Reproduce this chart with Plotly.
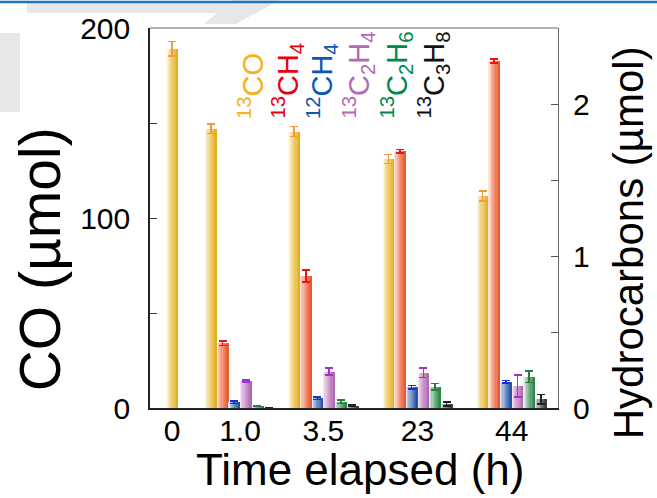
import plotly.graph_objects as go

# ---- data -------------------------------------------------------------
time_labels = ["0", "1.0", "3.5", "23", "44"]

co_13 = [189.0, 147.0, 145.5, 131.0, 111.5]          # µmol, left axis
co_13_err = [3.8, 2.6, 2.6, 2.4, 2.6]

ch4_13 = [None, 0.426, 0.868, 1.69, 2.283]            # µmol, right axis
ch4_13_err = [None, 0.016, 0.038, 0.012, 0.015]
ch4_12 = [None, 0.037, 0.064, 0.136, 0.173]
ch4_12_err = [None, 0.008, 0.009, 0.011, 0.008]
c2h4_13 = [None, 0.178, 0.239, 0.232, 0.145]
c2h4_13_err = [None, 0.008, 0.023, 0.032, 0.071]
c2h6_13 = [None, 0.013, 0.041, 0.140, 0.206]
c2h6_13_err = [None, 0.004, 0.011, 0.022, 0.037]
c3h8_13 = [None, 0.0, 0.015, 0.026, 0.057]
c3h8_13_err = [None, 0.0, 0.004, 0.014, 0.031]

# ---- styling ----------------------------------------------------------
FONT = "Liberation Sans, Arial, Helvetica, sans-serif"

series = [
    dict(name="<sup>13</sup>CO", y=co_13, err=co_13_err, axis="y",
         light=(253, 246, 226), full=(229, 176, 32), err_col="#f39a3a", label_col="#f5b21c"),
    dict(name="<sup>13</sup>CH<sub>4</sub>", y=ch4_13, err=ch4_13_err, axis="y2",
         light=(253, 226, 218), full=(234, 90, 48), err_col="#e8141e", label_col="#e60012"),
    dict(name="<sup>12</sup>CH<sub>4</sub>", y=ch4_12, err=ch4_12_err, axis="y2",
         light=(222, 231, 244), full=(36, 84, 166), err_col="#1a2fd0", label_col="#0a58b0"),
    dict(name="<sup>13</sup>C<sub>2</sub>H<sub>4</sub>", y=c2h4_13, err=c2h4_13_err, axis="y2",
         light=(246, 226, 242), full=(178, 104, 178), err_col="#a030d0", label_col="#b46ab6"),
    dict(name="<sup>13</sup>C<sub>2</sub>H<sub>6</sub>", y=c2h6_13, err=c2h6_13_err, axis="y2",
         light=(222, 240, 228), full=(42, 136, 76), err_col="#2f7a40", label_col="#00894a"),
    dict(name="<sup>13</sup>C<sub>3</sub>H<sub>8</sub>", y=c3h8_13, err=c3h8_13_err, axis="y2",
         light=(226, 226, 226), full=(60, 60, 60), err_col="#222222", label_col="#111111"),
]

# plot area in page pixels: x 150..558, y 28..407.5
PX_L, PX_R, PX_T, PX_B = 150, 558, 28, 407.5


def paper_x(px):
    return (px - PX_L) / (PX_R - PX_L)


def paper_y(py):
    return (PX_B - py) / (PX_B - PX_T)


def page_path(points):
    return "M " + " L ".join(f"{paper_x(x):.4f},{paper_y(y):.4f}" for x, y in points) + " Z"


# x-axis layout (axis units): centre of each time group, bar width
group_centers = [22.2, 90.0, 173.3, 267.5, 361.7]
bar_w = 11.65
n_slices = 10


def shade(light, full, t):
    f = t ** 0.75
    return "rgb({},{},{})".format(*[round(a + (b - a) * f) for a, b in zip(light, full)])


# bar centres: series missing at a time point (None) take no slot
centers = {i: [] for i in range(len(series))}
for g, gc in enumerate(group_centers):
    present = [i for i, s in enumerate(series) if s["y"][g] is not None]
    n = len(present)
    for k, i in enumerate(present):
        centers[i].append((g, gc + (k - (n - 1) / 2) * bar_w))

fig = go.Figure()
for i, s in enumerate(series):
    gx = [c for _, c in centers[i]]
    gy = [s["y"][g] for g, _ in centers[i]]
    ge = [s["err"][g] for g, _ in centers[i]]
    # horizontal colour gradient: each slice runs from its left edge to the bar's right edge
    for j in range(n_slices):
        lefts = [c - bar_w / 2 + j * bar_w / n_slices for c in gx]
        rights = [c + bar_w / 2 for c in gx]
        fig.add_trace(go.Bar(
            x=[(l + r) / 2 for l, r in zip(lefts, rights)], y=gy,
            width=[r - l for l, r in zip(lefts, rights)],
            yaxis=s["axis"], marker=dict(color=shade(s["light"], s["full"], j / (n_slices - 1)),
                                         line=dict(width=0)),
            showlegend=False, hoverinfo="skip"))
    # error bars on a transparent bar of full width
    fig.add_trace(go.Bar(
        x=gx, y=gy, width=bar_w, yaxis=s["axis"], name=s["name"],
        marker=dict(color="rgba(0,0,0,0)", line=dict(width=0)),
        error_y=dict(type="data", array=ge, color=s["err_col"], thickness=1.6, width=4),
        showlegend=False))

# rotated in-plot legend
legend_x = [251, 287.5, 322, 358, 396, 433]   # pixel centres
for s, px in zip(series, legend_x):
    fig.add_annotation(
        text=s["name"], textangle=-90, showarrow=False,
        x=paper_x(px), xref="paper", xanchor="center",
        y=paper_y(121), yref="paper", yanchor="bottom",
        font=dict(family=FONT, size=29, color=s["label_col"]))

# axis titles
fig.add_annotation(text="CO (µmol)", textangle=-90, showarrow=False,
                   x=paper_x(40), xref="paper", xanchor="center",
                   y=paper_y(259), yref="paper", yanchor="middle",
                   font=dict(family=FONT, size=57, color="black"))
fig.add_annotation(text="Hydrocarbons (µmol)", textangle=-90, showarrow=False,
                   x=paper_x(628), xref="paper", xanchor="center",
                   y=paper_y(243), yref="paper", yanchor="middle",
                   font=dict(family=FONT, size=42, color="black"))
fig.add_annotation(text="Time elapsed (h)", showarrow=False,
                   x=paper_x(360), xref="paper", xanchor="center",
                   y=paper_y(469), yref="paper", yanchor="middle",
                   font=dict(family=FONT, size=44, color="black"))

# faint grey background strokes behind the top-left corner of the page
WM = "#e7e7e7"
background_strokes = [
    [(27, 3), (232, 3), (226, 13), (27, 13)],
    [(232, 0), (280, 0), (236, 24), (204, 24)],
    [(0, 33), (20, 33), (20, 112), (0, 112)],
]

fig.update_layout(
    width=657, height=498,
    margin=dict(l=150, r=99, t=28, b=90, pad=0),
    paper_bgcolor="white", plot_bgcolor="rgba(255,255,255,0)",
    barmode="overlay", bargap=0,
    font=dict(family=FONT, color="black"),
    xaxis=dict(range=[0, 408], tickvals=group_centers, ticktext=time_labels,
               ticks="", showgrid=False, zeroline=False,
               showline=True, linecolor="#222", linewidth=1.5,
               tickfont=dict(size=30), ticklabelstandoff=-5),
    yaxis=dict(range=[0, 200], tickvals=[0, 100, 200], ticks="inside", ticklen=7,
               tickcolor="#333", tickwidth=1.2,
               minor=dict(tickvals=[50, 150], ticks="inside", ticklen=7, tickcolor="#333", tickwidth=1.2),
               showgrid=False, zeroline=False, showline=True, linecolor="#222", linewidth=1.5,
               tickfont=dict(size=30), ticklabelstandoff=12),
    yaxis2=dict(range=[0, 2.5], tickvals=[0, 1, 2], overlaying="y", side="right",
                ticks="inside", ticklen=7, tickcolor="#555", tickwidth=1.2,
                minor=dict(tickvals=[0.5, 1.5], ticks="inside", ticklen=7, tickcolor="#555", tickwidth=1.2),
                showgrid=False, zeroline=False, showline=True, linecolor="#666", linewidth=1.2,
                tickfont=dict(size=30), ticklabelstandoff=8),
    shapes=[
        dict(type="path", xref="paper", yref="paper", path=page_path(pts),
             fillcolor=WM, line=dict(width=0), layer="below")
        for pts in background_strokes
    ] + [
        # top frame line
        dict(type="line", xref="paper", yref="paper", x0=0, x1=1, y0=1, y1=1,
             line=dict(color="#666", width=1.2)),
        # thin blue rule across the top of the page
        dict(type="line", xref="paper", yref="paper", x0=paper_x(0), x1=paper_x(657),
             y0=paper_y(2), y1=paper_y(2), line=dict(color="#1f74c0", width=2.5)),
    ],
)

fig.write_html("out.html")
